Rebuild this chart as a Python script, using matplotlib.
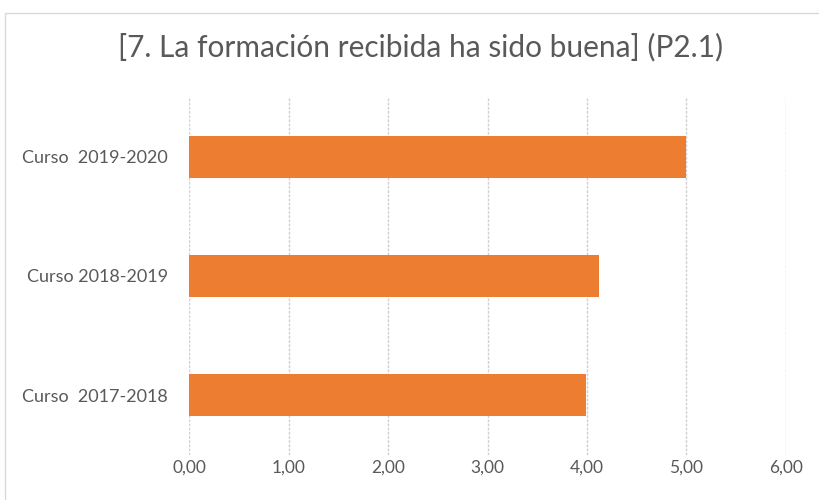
import matplotlib.pyplot as plt
from matplotlib.patches import Rectangle

# data
cursos = ["Curso  2017-2018", "Curso 2018-2019", "Curso  2019-2020"]
valores = [3.99, 4.12, 5.00]
ticks = [0, 1, 2, 3, 4, 5, 6]

plt.rcParams["font.family"] = ["Lato", "DejaVu Sans"]

fig = plt.figure(figsize=(8.19, 5.0), dpi=100)
ax = fig.add_axes([0.2308, 0.09, 0.7289, 0.716])

# outer chart border
fig.patches.append(Rectangle((0.006, -0.01), 1.1, 0.984, transform=fig.transFigure,
                             fill=False, edgecolor="#d9d9d9", linewidth=1.0))

ax.barh(range(len(cursos)), valores, height=0.35, color="#ED7D31", zorder=3)

ax.set_xlim(0, 6)
ax.set_ylim(-0.5, 2.5)
ax.set_xticks(ticks)
ax.set_xticklabels([f"{t:.2f}".replace(".", ",") for t in ticks])
ax.set_yticks(range(len(cursos)))
ax.set_yticklabels(cursos)

ax.grid(axis="x", color="#d0d0d0", linewidth=1.0, linestyle=(0, (2, 1)), zorder=0)
for s in ax.spines.values():
    s.set_visible(False)
ax.tick_params(length=0, colors="#595959", labelsize=12.5)
ax.tick_params(axis="x", pad=3)
ax.tick_params(axis="y", pad=15, labelsize=13)

fig.text(0.513, 0.906, "[7. La formación recibida ha sido buena] (P2.1)",
         ha="center", va="center", fontsize=21.5, color="#595959")

fig.savefig("out.png", dpi=100)
